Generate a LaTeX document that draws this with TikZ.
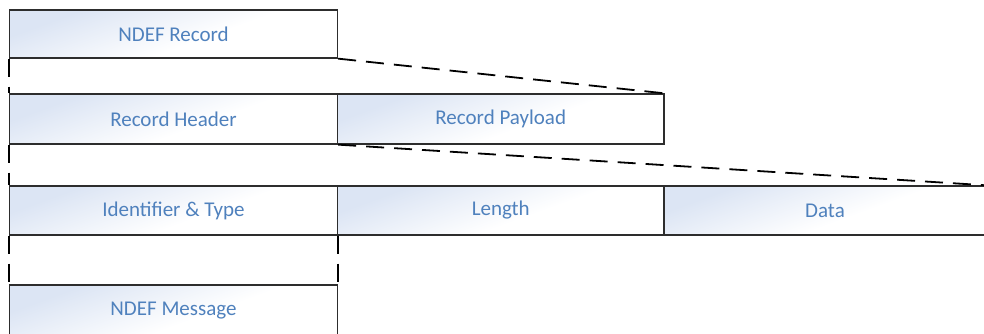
\documentclass[tikz,border=0pt]{standalone}
\usepackage{fontspec}
\setmainfont{Carlito}
\definecolor{sb}{RGB}{220,229,244}
\definecolor{txtblue}{RGB}{79,129,189}
\definecolor{edge}{RGB}{45,45,45}
\pgfdeclarehorizontalshading{softblue}{100bp}{color(0bp)=(sb); color(28bp)=(sb); color(56bp)=(white); color(100bp)=(white)}
\begin{document}
\begin{tikzpicture}[x=1pt,y=-1pt,
  field/.style={rectangle, draw=edge, line width=1.3pt, shading=softblue, shading angle=-70,
    inner sep=0pt, text=txtblue, font=\fontsize{21}{24}\selectfont},
  link/.style={draw=black, line width=1.8pt, dash pattern=on 18pt off 10pt}]
\useasboundingbox (0,0) rectangle (984,334);
\clip (0,0) rectangle (984,334);
\node[field, minimum width=328pt, minimum height=48pt] (rec) at (173.5,34) {NDEF Record};
\node[field, minimum width=328pt, minimum height=50pt] (hdr) at (173.5,119) {Record Header};
\node[field, minimum width=326.5pt, minimum height=50pt] (pay) at (500.75,119) {Record Payload};
\node[field, minimum width=328pt, minimum height=49pt] (idt) at (173.5,210.5) {Identifier \& Type};
\node[field, minimum width=326.5pt, minimum height=49pt] (len) at (500.75,210.5) {Length};
\node[field, minimum width=322pt, minimum height=49pt] (dat) at (825,210.5) {Data};
\node[field, minimum width=328pt, minimum height=51pt] (msg) at (173.5,310.5) {NDEF Message};
\draw[link] (rec.south east) -- (pay.north east);
\draw[link] (hdr.south east) -- (dat.north east);
\draw[link] (rec.south west) -- (hdr.north west);
\draw[link] (hdr.south west) -- (idt.north west);
\draw[link] (idt.south west) -- (msg.north west);
\draw[link] (idt.south east) -- (msg.north east);
\end{tikzpicture}
\end{document}
